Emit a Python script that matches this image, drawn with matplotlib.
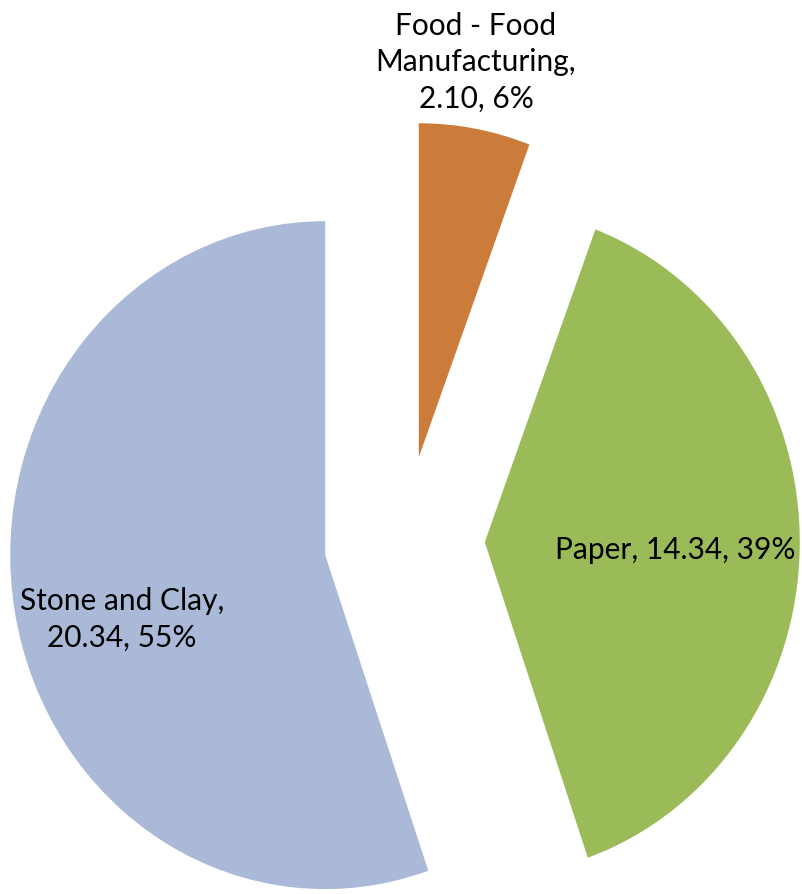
import matplotlib
matplotlib.use("Agg")
import matplotlib.pyplot as plt

categories = ["Food - Food\nManufacturing", "Paper", "Stone and Clay"]
values = [2.10, 14.34, 20.34]
percents = ["6%", "39%", "55%"]
colors = ["#CB7B3A", "#9BBB59", "#AAB9D7"]

plt.rcParams['font.family'] = ['Lato', 'DejaVu Sans']

fig = plt.figure(figsize=(8.02, 8.95), dpi=100)
ax = fig.add_axes([0, 0, 1, 1])
ax.pie(values, colors=colors, startangle=90, counterclock=False,
       explode=[0.255, 0.255, 0.255], radius=1.0,
       wedgeprops=dict(linewidth=0))
ax.set_aspect('auto')
ax.set_xlim(-1.284, 1.262)
ax.set_ylim(-1.057, 1.623)
ax.axis('off')

label_pos = [(0.227, 1.436), (0.859, -0.024), (-0.897, -0.231)]
texts = [
    f"{categories[0]},\n{values[0]:.2f}, {percents[0]}",
    f"{categories[1]}, {values[1]:.2f}, {percents[1]}",
    f"{categories[2]},\n{values[2]:.2f}, {percents[2]}",
]
for (x, y), t in zip(label_pos, texts):
    ax.text(x, y, t, ha='center', va='center', fontsize=21.5,
            color='#000000', linespacing=1.38, multialignment='center')

fig.savefig("out.png", dpi=100)
